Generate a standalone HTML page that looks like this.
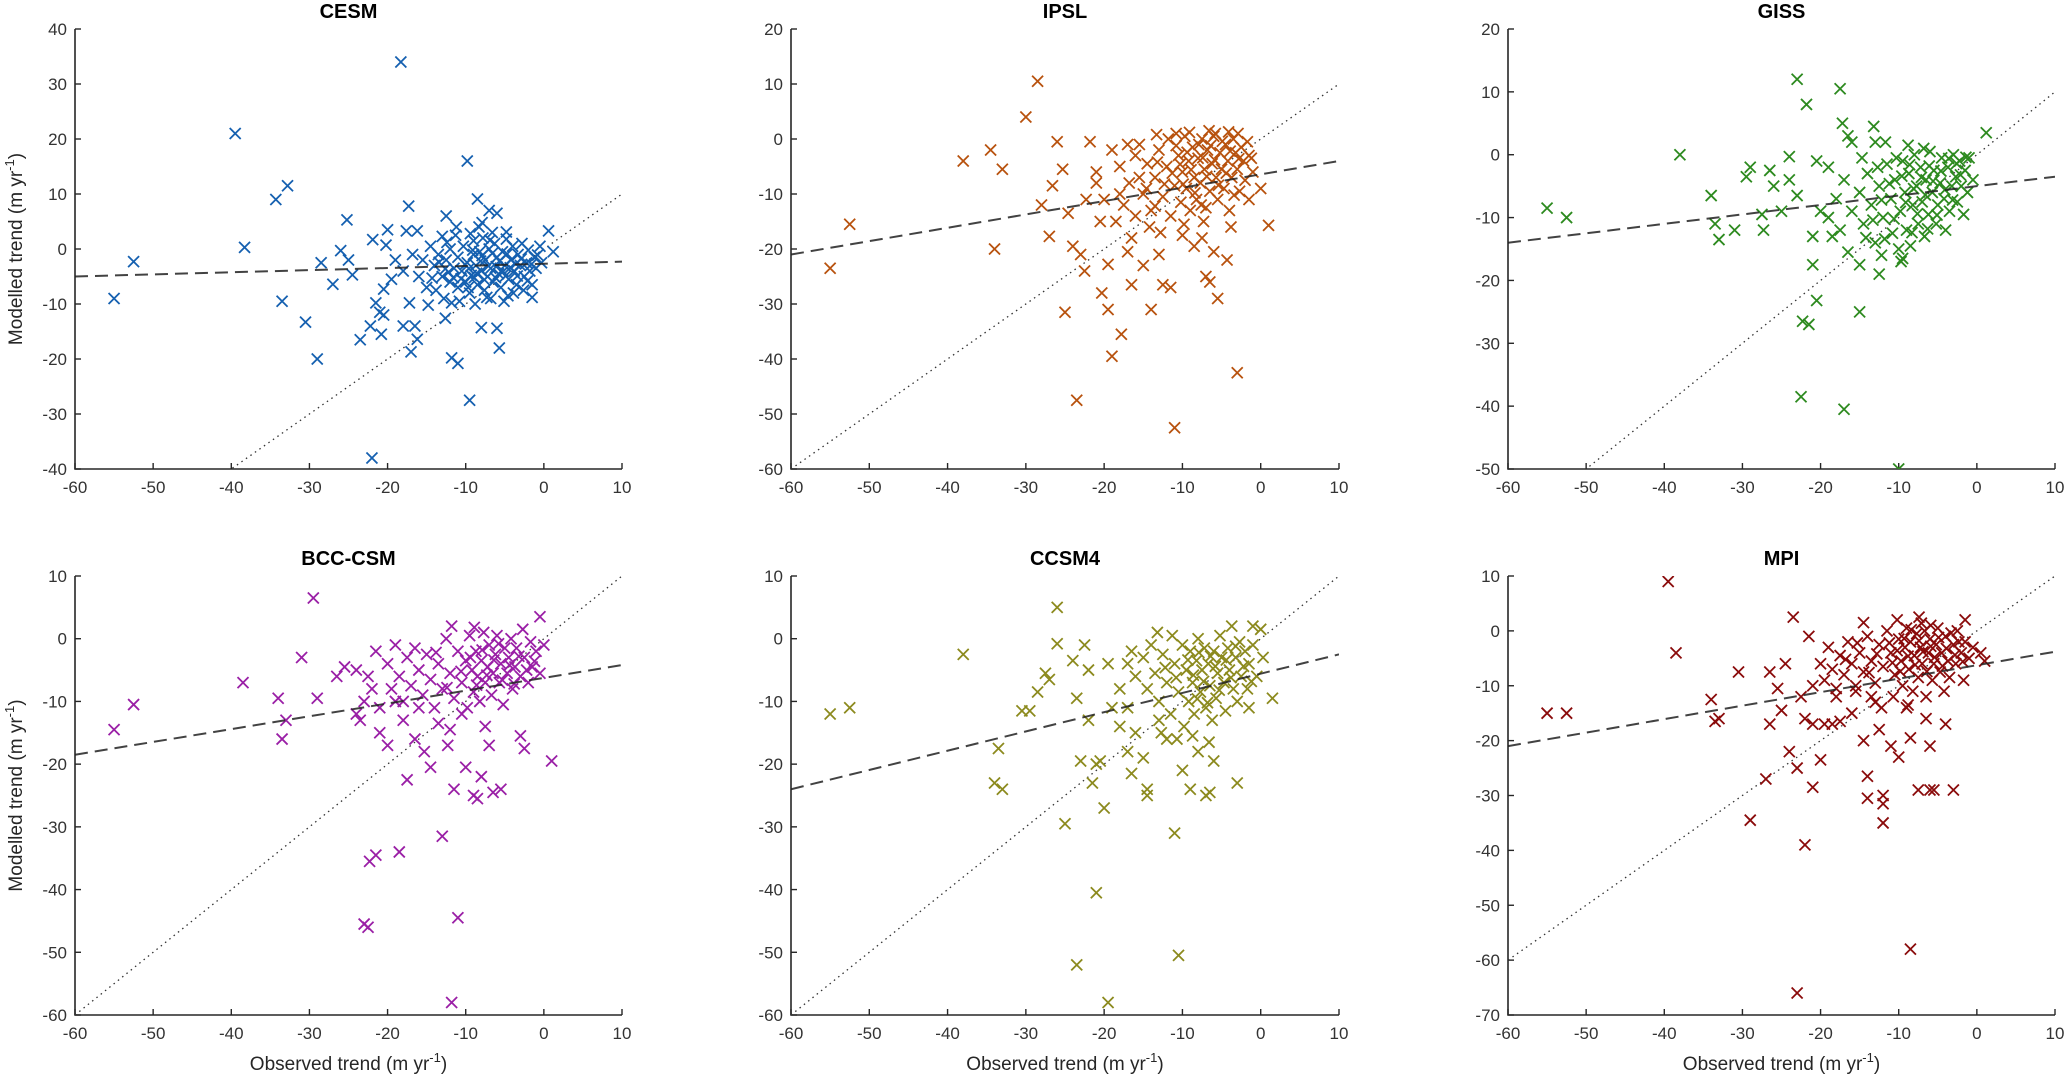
<!DOCTYPE html>
<html><head><meta charset="utf-8"><style>
html,body{margin:0;padding:0;background:#fff;}
svg{display:block;font-family:"Liberation Sans",sans-serif;}
</style></head><body>
<svg id="fig" width="2067" height="1077" viewBox="0 0 2067 1077"></svg>
<script>
const panelNames = ["CESM","IPSL","GISS","BCC-CSM","CCSM4","MPI"];
const panelColors = ["#1560b0","#b8520e","#2d8a1f","#9a1fa6","#8c8a1e","#8a0b0b"];
const yMins = [-40,-60,-50,-60,-60,-70];
const yMaxs = [40,20,20,10,10,10];
const xTicks = [-60,-50,-40,-30,-20,-10,0,10];
const fitStart = [-5,-21,-14,-18.5,-24,-21];
const fitEnd = [-2.3,-4,-3.5,-4.2,-2.5,-3.8];
const cesmPoints = [[-55,-9],[-52.5,-2.3],[-39.5,21],[-38.3,0.3],[-34.3,9],[-32.8,11.5],[-33.5,-9.5],[-30.5,-13.3],[-29,-20],[-28.5,-2.5],[-27,-6.4],[-26,-0.3],[-25.2,5.3],[-25,-2],[-24.5,-4.7],[-23.5,-16.5],[-22.2,-14],[-22,-38],[-21.5,-9.8],[-21,-11.5],[-20.8,-15.5],[-20.5,-12],[-20.5,-7.3],[-20,3.5],[-18.3,34],[-18,-14],[-17.6,3.3],[-17.3,7.8],[-17.2,-9.8],[-17,-18.7],[-16.5,-14],[-16.2,-16.4],[-16.2,3.3],[-14.8,-10.2],[-13,2.3],[-12.5,6],[-12.6,-12.6],[-11.8,-9.8],[-11.8,-19.8],[-11.2,4],[-11,-20.8],[-9.8,16],[-9.5,-27.5],[-8.5,9.1],[-8,-14.3],[-7,7],[-6,6.5],[-6,-14.4],[-5.7,-18],[-4.8,3.1],[-1.5,-8.8],[0.6,3.3],[1.2,-0.5],[-21.9,1.7],[-20.2,0.7],
[-14,-3],[-13.5,-1],[-13,-5],[-12.5,-2],[-12,-6],[-12,0],[-11.5,-3.5],[-11,-7],[-11,-1.5],[-10.5,-4],[-10.3,0.5],[-10,-6],[-9.8,-2.5],[-9.5,-8],[-9.3,-4.8],[-9,-1],[-9,1.5],[-8.7,-3],[-8.5,-6.5],[-8.2,-0.5],[-8,-4],[-7.8,2],[-7.6,-7.5],[-7.5,-2],[-7.2,-5],[-7,0],[-6.8,-3.5],[-6.5,-6],[-6.3,1],[-6,-1.5],[-5.8,-4.5],[-5.5,-7],[-5.3,-0.5],[-5,-3],[-4.8,1.8],[-4.5,-5.5],[-4.2,-2],[-4,0.5],[-3.8,-4],[-3.5,-6.5],[-3.3,-1],[-3,-3],[-2.8,1],[-2.5,-5],[-2.2,-2.5],[-2,-0.2],[-1.8,-4],[-1.5,-6.5],[-1.2,-1.5],[-1,-3.5],[-0.5,0.5],[-0.3,-2.5],[-16,-5],[-15.5,-2],[-15,-7],[-14.5,0.5],[-16.8,-1],[-18,-4],[-19,-2],[-19.5,-5.5],[-13.8,-7.5],[-12.8,-9],[-10.8,-9.5],[-8.8,-10],[-6.8,-9],[-4.6,-8.5],[-2.6,-7.5],[-11.3,2.5],[-8.3,4],[-6.6,3],[-7.3,-8.8],[-5.1,-9.5],[-3.9,-8],[-9.7,-7],[-12.2,-4.2],[-10.1,-2.8],[-8.9,-5.2],[-7.9,-1.2],[-6.1,-3.2],[-4.9,-4.9],[-3.6,-2.7],[-2.1,-5.8],
[-9.6,-3.6],[-9.1,-0.2],[-8.6,-4.4],[-8.1,-2.2],[-7.6,-5.6],[-7.1,-3.1],[-6.6,-0.8],[-6.2,-5.2],[-5.7,-2.2],[-5.2,-4.1],[-4.7,-0.9],[-4.3,-3.4],[-3.4,-4.9],[-2.9,-1.8],[-10.6,-5.4],[-11.6,-5.2],[-12.6,-3.6],[-13.4,-2.4],[-14.3,-5.3],[-1.6,-2.8],[-0.8,-1.1],[-6.9,1.6],[-9.4,2.8],[-7.9,4.8],[-12.4,1.2]];
const ipslPoints = [[-55,-23.5],[-52.5,-15.5],[-38,-4],[-34.5,-2],[-33,-5.5],[-34,-20],[-30,4],[-28.5,10.5],[-27,-17.7],[-26,-0.5],[-25.3,-5.5],[-24.6,-13.5],[-24,-19.5],[-25,-31.5],[-23.5,-47.5],[-23,-21],[-22.5,-24],[-21.8,-0.5],[-21,-8],[-20.5,-15],[-20.3,-28],[-19.5,-31],[-19,-39.5],[-19.5,-22.8],[-18,-10],[-17.8,-35.5],[-17,-20.5],[-16.5,-26.5],[-16.5,-18],[-15,-23],[-13.5,-12.2],[-14,-31],[-12.5,-26.5],[-11,-52.5],[-11.5,-27],[-8.5,-19.5],[-7,-25],[-6.5,-26],[-5.5,-29],[-3,-42.5],[-7.5,-18],[-10,-17.5],[-13,-21],[-6,-20.5],[-4.3,-22],[1,-15.7],[0,-9],[-1.5,-3],[-15.5,-7],[-16,-3],[-17,-1],[-22.3,-11],[-26.6,-8.5],[-28,-12],
[-19,-2],[-18,-5],[-17.5,-12],[-16.8,-8],[-16,-14],[-15.5,-1],[-15,-10],[-14.5,-4.5],[-14,-13],[-13.5,-7],[-13,-2],[-12.5,-10.5],[-12,-5],[-11.8,0],[-11.5,-14],[-11,-8.5],[-10.5,-3],[-10.2,-11.5],[-10,-6],[-9.7,0.5],[-9.5,-9],[-9.2,-4],[-9,-13],[-8.7,-1.5],[-8.5,-7],[-8.2,-11],[-8,-3.5],[-7.7,-8],[-7.5,0],[-7.2,-5.5],[-7,-12.5],[-6.8,-2],[-6.5,-9.5],[-6.2,-4.5],[-6,0.5],[-5.7,-7],[-5.5,-11],[-5.2,-2.5],[-5,-5.5],[-4.7,-9],[-4.5,-1],[-4.2,-4],[-4,-13],[-3.7,-7],[-3.5,0],[-3.2,-2.5],[-3,-5.5],[-2.7,-9.5],[-2.5,-1.5],[-2.2,-4],[-2,-7.5],[-1.7,-0.5],[-1.5,-11],[-1.2,-3.5],[-1,-6],[-14.2,-16],[-12.8,-17],[-9.8,-15.5],[-7.3,-15],[-3.8,-16],[-18.5,-15],[-20,-11],[-21,-6],[-13.3,0.8],[-10.8,1],[-5.8,1],[-2.9,1],
[-11.3,-6.2],[-10.8,-1.2],[-10.3,-4.6],[-9.9,-8.2],[-9.4,-2.4],[-8.9,-5.6],[-8.4,-9.8],[-7.9,-1],[-7.4,-3.4],[-6.9,-6.8],[-6.4,-1.2],[-5.9,-3.8],[-5.4,-8.4],[-4.9,-0.4],[-4.4,-6.2],[-3.9,-2.2],[-3.4,-10.2],[-2.8,-3.6],[-12.3,-8.2],[-13.2,-4.2],[-14.6,-9],[-9.1,1.2],[-6.6,1.5],[-4.1,1.3],[-7.6,-12]];
const gissPoints = [[-55,-8.5],[-52.5,-10],[-38,0],[-34,-6.5],[-33.5,-11],[-33,-13.5],[-31,-12],[-29.5,-3.5],[-29,-2],[-27.3,-12],[-26,-5],[-25,-9],[-24,-4],[-24,-0.3],[-23,12],[-22.5,-38.5],[-22.3,-26.5],[-21.5,-27],[-21.8,8],[-21,-17.5],[-20.5,-23.2],[-20,-9],[-21,-13],[-20.5,-1],[-19,-2],[-17.5,10.5],[-17.2,5],[-17,-40.5],[-16.5,3],[-16,2],[-15,-25],[-15,-17.5],[-13.2,4.5],[-13,2],[-12.5,-19],[-10,-50],[-9.5,-16.5],[1.2,3.5],[-18.5,-13],[-23,-6.5],[-27.5,-9.5],[-26.5,-2.5],
[-15,-6],[-14.5,-11],[-14,-3],[-13.5,-8],[-13,-14],[-12.5,-5],[-12,-10],[-11.5,-1.5],[-11,-7],[-10.8,-12.5],[-10.5,-4],[-10,-15],[-9.8,-9],[-9.5,-1],[-9.2,-6],[-9,-12],[-8.7,-3],[-8.5,-14.5],[-8.2,-8],[-8,0],[-7.7,-5],[-7.5,-11],[-7.2,-2],[-7,-7.5],[-6.7,-13],[-6.5,-4],[-6.2,-9.5],[-6,0.5],[-5.7,-6],[-5.5,-2.5],[-5.2,-11],[-5,-8],[-4.7,-4.5],[-4.5,-0.5],[-4.2,-7],[-4,-12],[-3.7,-2],[-3.5,-9],[-3.2,-5],[-3,0],[-2.7,-3.5],[-2.5,-7.5],[-2.2,-1],[-2,-5],[-1.7,-9.5],[-1.5,-2.5],[-1.2,-6],[-1,-0.5],[-0.5,-4],[-16,-9],[-17,-4],[-17.5,-12],[-18,-7],[-19,-10],[-16.5,-15.5],[-12.2,-16],[-9.7,-17],[-14.7,-0.5],[-11.7,2],[-8.8,1.5],[-6.8,1],[-12.7,-2],[-10.3,-0.5],
[-9.6,-3.4],[-9.1,-7.6],[-8.6,-1.6],[-8.1,-5.4],[-7.6,-9.4],[-7.1,-3.6],[-6.6,-6.4],[-6.1,-1.8],[-5.6,-4.2],[-5.1,-9.6],[-4.6,-2.6],[-4.1,-5.6],[-3.6,-0.6],[-3.1,-7.2],[-2.6,-1.4],[-2.1,-3.2],[-11.2,-4.6],[-12.2,-7.2],[-13.3,-10.4],[-10.6,-10.2],[-11.8,-13.4],[-8.3,-12.4],[-14.2,-13.2],[-1.4,-0.4],[-6.3,-11.8]];
const bccPoints = [[-55,-14.5],[-52.5,-10.5],[-38.5,-7],[-34,-9.5],[-33.5,-16],[-33,-13],[-31,-3],[-29.5,6.5],[-29,-9.5],[-26.5,-6],[-25.5,-4.5],[-23.5,-13],[-23,-45.5],[-22.5,-46],[-22.3,-35.5],[-21.5,-34.5],[-21,-15],[-20,-17],[-18.5,-34],[-17.5,-22.5],[-16.5,-16],[-15.3,-18],[-14.5,-20.5],[-13,-31.5],[-12.3,-17],[-11.8,-58],[-11.5,-24],[-11,-44.5],[-10,-20.5],[-9,-25],[-8.5,-25.5],[-8,-22],[-7.5,-14],[-6.5,-24.5],[-5.5,-24],[-3,-15.5],[-2.5,-17.5],[1,-19.5],[-0.5,3.5],[-21.5,-2],[-24,-12],[-22.5,-6],[-19,-10],[-18,-13],[-16,-11],[-13.5,-13.5],[-12,-14.5],[-10.5,-12],[-7,-17],
[-20,-4],[-19.5,-8],[-19,-1],[-18.5,-6],[-18,-10],[-17.5,-3],[-17,-7.5],[-16.5,-1.5],[-16,-5],[-15.5,-9],[-15,-2.5],[-14.5,-6.5],[-14,-11],[-13.5,-4],[-13,-8],[-12.5,0],[-12,-5.5],[-11.5,-9.5],[-11,-2],[-10.5,-7],[-10,-3.5],[-9.8,-11],[-9.5,0.5],[-9.2,-5],[-9,-8.5],[-8.7,-2],[-8.5,-6],[-8.2,-10],[-8,-3.5],[-7.7,1],[-7.5,-7],[-7.2,-4.5],[-7,-1],[-6.7,-9],[-6.5,-5.5],[-6.2,-2.5],[-6,0.5],[-5.7,-7],[-5.5,-4],[-5.2,-10.5],[-5,-1.5],[-4.7,-5.5],[-4.5,-3],[-4.2,0],[-4,-8],[-3.7,-4.5],[-3.5,-1.5],[-3,-6],[-2.7,1.5],[-2.5,-3],[-2,-7],[-1.7,-0.5],[-1.5,-4.5],[-1,-2],[-0.5,-5.5],[0,-1],[-22,-8],[-23,-10],[-24,-5],[-21,-11],[-11.8,2],[-8.9,1.8],
[-9.4,-3],[-8.6,-7.4],[-7.9,-1.8],[-7.3,-5.8],[-6.4,-3.4],[-5.8,-0.8],[-5.3,-6.6],[-4.4,-4.2],[-3.8,-7.2],[-3.2,-2.8],[-2.2,-5],[-1.2,-3.6],[-10.6,-5.2],[-12.4,-7.8],[-13.8,-2.2]];
const ccsmPoints = [[-55,-12],[-52.5,-11],[-38,-2.5],[-33.5,-17.5],[-34,-23],[-33,-24],[-30.5,-11.5],[-29.5,-11.5],[-28.5,-8.5],[-27.5,-5.5],[-27,-6.5],[-26,5],[-26,-0.8],[-25,-29.5],[-24,-3.5],[-23.5,-9.5],[-23.5,-52],[-23,-19.5],[-22.5,-1],[-22,-13],[-22,-5],[-21.5,-23],[-21,-20],[-21,-40.5],[-20.5,-19.5],[-20,-27],[-19.5,-58],[-17,-4],[-17,-18],[-16.5,-21.5],[-15,-19],[-14.5,-24],[-14.5,-25],[-13,-13],[-11,-31],[-10.5,-50.5],[-10,-21],[-9,-24],[-7,-25],[-6.5,-24.5],[-3,-23],[1.5,-9.5],[-1,2],[0,1.5],[-1.5,-11],[-18,-8],[-19,-11],[-16,-15],[-12,-16],[-8,-18],[-6,-19.5],
[-15,-3],[-14.5,-8],[-14,-1],[-13.5,-5.5],[-13,-10],[-12.5,-2.5],[-12,-7],[-11.5,-12],[-11,-4],[-10.5,-8.5],[-10,-1],[-9.8,-14],[-9.5,-5],[-9.2,-10],[-9,-2],[-8.7,-7],[-8.5,-12],[-8.2,-3.5],[-8,0],[-7.7,-8.5],[-7.5,-5],[-7.2,-1.5],[-7,-11],[-6.7,-4],[-6.5,-7.5],[-6.2,-13],[-6,-2],[-5.7,-9.5],[-5.5,-5.5],[-5.2,0.5],[-5,-3],[-4.7,-7],[-4.5,-11.5],[-4.2,-1.5],[-4,-5],[-3.7,2],[-3.5,-8],[-3.2,-3],[-3,-10],[-2.7,-0.5],[-2.5,-6],[-2,-2],[-1.7,-8],[-1.5,-4],[-1,-1],[-0.5,-6],[0.3,-3],[-16,-6],[-17,-11],[-16.5,-2],[-18,-14],[-19.5,-4],[-12.7,-15],[-10.7,-16],[-8.7,-15.5],[-6.6,-16.5],[-13.2,1],[-11.3,0.5],
[-9.3,-3.4],[-8.6,-5.8],[-7.9,-2.2],[-7.3,-6.8],[-6.4,-2.8],[-5.8,-4.4],[-5.3,-8.2],[-4.4,-3.4],[-3.8,-6.2],[-3.2,-1.2],[-2.2,-4.4],[-1.2,-6.8],[-10.8,-6.2],[-12.2,-4.6],[-6.8,-10.2],[-8.1,-9.6]];
const mpiPoints = [[-55,-15],[-52.5,-15],[-39.5,9],[-38.5,-4],[-34,-12.5],[-33.5,-16.5],[-33,-16],[-30.5,-7.5],[-29,-34.5],[-27,-27],[-26.5,-17],[-26.5,-7.5],[-25.5,-10.5],[-25,-14.5],[-24.5,-6],[-24,-22],[-23.5,2.5],[-23,-66],[-23,-25],[-22.5,-12],[-22,-39],[-22,-16],[-21.5,-1],[-21,-17],[-21,-28.5],[-20,-23.5],[-19.5,-17],[-18.5,-17],[-17.5,-16.5],[-15.5,-10],[-14.5,-20],[-14,-26.5],[-14,-30.5],[-13.5,-12],[-12.5,-18],[-12,-30],[-12,-35],[-12,-31.5],[-11,-21],[-10,-23],[-8.5,-58],[-8.5,-19.5],[-7.5,-29],[-6,-29],[-5.5,-29],[-6,-21],[-3,-29],[-4,-17],[-14.5,1.5],[-1.5,2],[-21,-10],[-18,-12],[-16,-15],[-13,-13],[-9,-14],[-6.5,-16],
[-20,-6],[-19.5,-9],[-19,-3],[-18.5,-7],[-18,-10.5],[-17.5,-4.5],[-17,-8],[-16.5,-2],[-16,-6],[-15.5,-11],[-15,-4],[-14.5,-7.5],[-14,-1],[-13.5,-5.5],[-13,-9.5],[-12.5,-2.5],[-12,-6.5],[-11.5,0],[-11,-4],[-10.7,-12],[-10.5,-8],[-10,-1.5],[-9.7,-5.5],[-9.5,-10],[-9.2,-3],[-9,0.5],[-8.7,-7],[-8.5,-2],[-8.2,-11],[-8,-4.5],[-7.7,-0.5],[-7.5,-8.5],[-7.2,-3],[-7,-6],[-6.7,0],[-6.5,-12],[-6.2,-4],[-6,-1.5],[-5.7,-9],[-5.5,-6],[-5.2,-2.5],[-5,0.5],[-4.7,-7.5],[-4.5,-4],[-4.2,-11],[-4,-1],[-3.7,-5.5],[-3.5,-8.5],[-3,-2.5],[-2.7,-6],[-2.5,0],[-2,-4],[-1.7,-9],[-1.5,-2],[-1,-5],[-0.5,-3],[0.5,-4],[1,-5.5],[-12.2,-14],[-8.8,-13.5],[-10.2,2],[-7.4,2.5],[-5.9,1],
[-11.2,-2.2],[-10.8,-5.8],[-10.2,-3.6],[-9.8,-7.4],[-9.3,-1.4],[-8.8,-4.6],[-8.4,0.2],[-7.9,-6.2],[-7.4,-1.8],[-6.9,-3.8],[-6.4,-7.4],[-5.9,-2.8],[-5.4,-4.8],[-4.9,-1.2],[-4.4,-6.4],[-3.9,-3.2],[-3.3,-0.4],[-2.8,-4.4],[-2.3,-2],[-1.8,-5.6],[-12.8,-4.2],[-13.8,-7.6],[-15.3,-2.2],[-16.8,-5.2],[-7.1,1.4]];
const allPoints = [cesmPoints,ipslPoints,gissPoints,bccPoints,ccsmPoints,mpiPoints];

const NS="http://www.w3.org/2000/svg";
const svg=document.getElementById('fig');
const colL=[75,791,1508], colR=[622,1339,2055];
const rowT=[29,576], rowB=[469,1015];
function mk(tag,attrs,parent){const e=document.createElementNS(NS,tag);for(const k in attrs)e.setAttribute(k,attrs[k]);(parent||svg).appendChild(e);return e;}

for(let p=0;p<6;p++){
  const c=p%3, r=Math.floor(p/3);
  const L=colL[c],R=colR[c],T=rowT[r],B=rowB[r];
  const ymin=yMins[p], ymax=yMaxs[p];
  const sx=v=>L+(v-(-60))/70*(R-L);
  const sy=v=>B-(v-ymin)/(ymax-ymin)*(B-T);
  const g=mk('g',{});
  
  
  const clipId='clip'+p;
  const cp=mk('clipPath',{id:clipId},g);
  mk('rect',{x:L,y:T,width:R-L,height:B-T},cp);
  const t=mk('text',{x:(L+R)/2,y:T-11,'text-anchor':'middle','font-size':20,'font-weight':'bold',fill:'#000'},g);
  t.textContent=panelNames[p];
  
  
  const ax=mk('path',{d:`M${L},${T}V${B}H${R}`,stroke:'#262626','stroke-width':1.6,fill:'none'},g);
  
  
  xTicks.forEach(v=>{
    const x=sx(v);
    mk('line',{x1:x,y1:B,x2:x,y2:B-6,stroke:'#262626','stroke-width':1.4},g);
    const tl=mk('text',{x:x,y:B+24,'text-anchor':'middle','font-size':17,fill:'#333'},g);
    tl.textContent=v;
    
    
  });
  for(let v=ymin;v<=ymax;v+=10){
    const y=sy(v);
    mk('line',{x1:L,y1:y,x2:L+6,y2:y,stroke:'#262626','stroke-width':1.4},g);
    const tl=mk('text',{x:L-8,y:y+6,'text-anchor':'end','font-size':17,fill:'#333'},g);
    tl.textContent=v;
    
    
  }
  const inner=mk('g',{'clip-path':`url(#${clipId})`},g);
  const d1=mk('line',{x1:sx(-60),y1:sy(-60),x2:sx(10),y2:sy(10),stroke:'#333','stroke-width':1.3,'stroke-dasharray':'1.5,4'},inner);
  
  
  allPoints[p].forEach(pt=>{
    const x=sx(pt[0]), y=sy(pt[1]), s=5.5;
    const m=mk('path',{d:`M${x-s},${y-s}L${x+s},${y+s}M${x-s},${y+s}L${x+s},${y-s}`,stroke:panelColors[p],'stroke-width':1.8,fill:'none'},inner);
    
    
  });
  const fl=mk('line',{x1:sx(-60),y1:sy(fitStart[p]),x2:sx(10),y2:sy(fitEnd[p]),stroke:'#222','stroke-width':2,'stroke-dasharray':'13,7',opacity:0.85},inner);
  
  
  if(c===0){
    const cy=(T+B)/2;
    const yl=mk('text',{x:0,y:0,transform:`translate(22,${cy}) rotate(-90)`,'text-anchor':'middle','font-size':19,fill:'#262626'},g);
    yl.innerHTML='Modelled trend (m yr<tspan font-size="13" dy="-8">-1</tspan><tspan dy="8">)</tspan>';
    
    
  }
  if(r===1){
    const xl=mk('text',{x:(L+R)/2,y:1070,'text-anchor':'middle','font-size':19,fill:'#262626'},g);
    xl.innerHTML='Observed trend (m yr<tspan font-size="13" dy="-8">-1</tspan><tspan dy="8">)</tspan>';
    
    
  }
}
</script>
</body></html>
